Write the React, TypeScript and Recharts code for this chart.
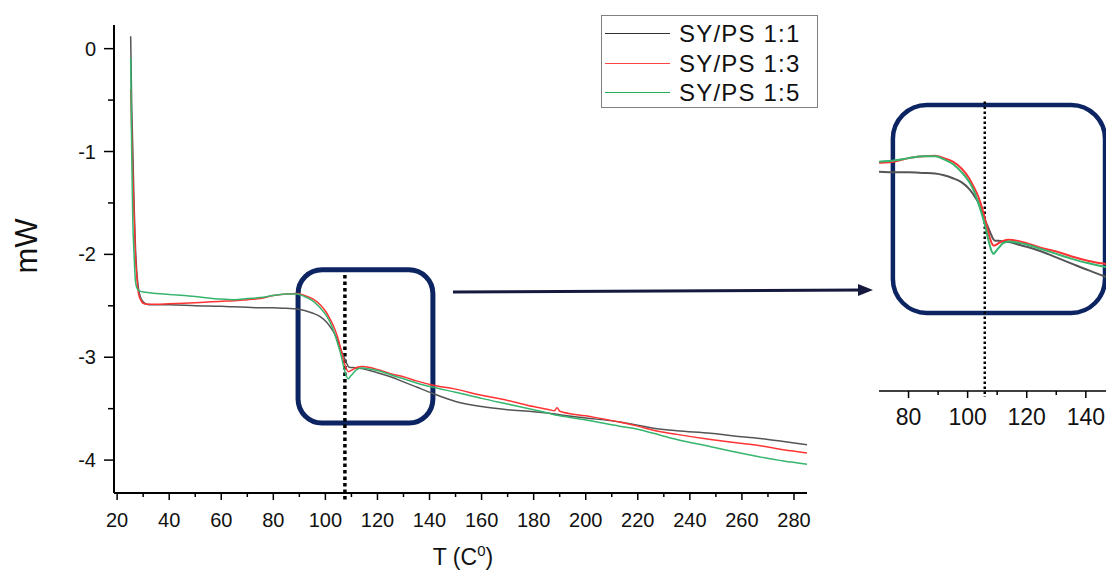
import {
  LineChart,
  Line,
  XAxis,
  YAxis,
  ReferenceArea,
  ReferenceLine,
} from "recharts";

// temperature grid (C) shared by the three DSC traces
const temps = [
  25.2, 25.6, 26, 26.5, 27, 27.5, 28.2, 29, 30, 31.5, 33, 40, 50, 60, 65, 70, 75, 80, 85, 89,
  92, 95, 98, 100.5, 102, 103.5, 105, 106, 107, 108, 108.8, 109.5, 110.5, 112, 114, 117, 120,
  125, 130, 135, 141, 150, 160, 170, 180, 186, 188, 189, 190, 200, 213, 220, 226, 235, 248, 257,
  267, 276, 285,
];

// heat flow (mW)
const mw11 = [
  0.12, -0.55, -0.95, -1.5, -1.9, -2.15, -2.33, -2.42, -2.46, -2.485, -2.49, -2.49, -2.5, -2.505,
  -2.51, -2.515, -2.52, -2.52, -2.525, -2.53, -2.545, -2.57, -2.605, -2.66, -2.71, -2.77, -2.86,
  -2.93, -2.99, -3.05, -3.09, -3.1, -3.1, -3.105, -3.11, -3.13, -3.15, -3.19, -3.24, -3.29, -3.35,
  -3.43, -3.48, -3.51, -3.53, -3.545, -3.55, -3.555, -3.56, -3.59, -3.63, -3.66, -3.69, -3.715,
  -3.74, -3.765, -3.79, -3.82, -3.85,
];
const mw13 = [
  -0.4, -0.8, -1.2, -1.6, -2.0, -2.2, -2.38, -2.44, -2.475, -2.485, -2.485, -2.48, -2.47, -2.455,
  -2.45, -2.44, -2.43, -2.4, -2.385, -2.38, -2.4, -2.43, -2.49, -2.57, -2.64, -2.72, -2.83, -2.93,
  -3.03, -3.11, -3.14, -3.135, -3.12, -3.1, -3.09, -3.1, -3.12, -3.16, -3.19, -3.23, -3.27, -3.31,
  -3.37, -3.42, -3.48, -3.51, -3.52, -3.49, -3.525, -3.57, -3.63, -3.67, -3.71, -3.75, -3.8, -3.83,
  -3.86, -3.9, -3.93,
];
const mw15 = [
  -0.09, -1.0, -1.65, -2.0, -2.25, -2.32, -2.35, -2.36, -2.365, -2.37, -2.375, -2.39, -2.41,
  -2.435, -2.44, -2.43, -2.42, -2.4, -2.385, -2.385, -2.41, -2.45, -2.52, -2.6, -2.67, -2.77,
  -2.89, -2.98, -3.09, -3.18, -3.21, -3.19, -3.16, -3.12, -3.105, -3.115, -3.13, -3.17, -3.21,
  -3.25, -3.29, -3.34, -3.4, -3.455, -3.51, -3.545, -3.56, -3.565, -3.57, -3.61, -3.67, -3.7,
  -3.74, -3.8, -3.87, -3.92, -3.97, -4.01, -4.04,
];

const seriesNames = ["SY/PS 1:1", "SY/PS 1:3", "SY/PS 1:5"];
const seriesKeys = ["s11", "s13", "s15"];
const seriesColors = ["#555555", "#ff3333", "#35b56e"];
const legendColors = ["#333333", "#ff4444", "#22aa55"];

const xTicks = [20, 30, 40, 50, 60, 70, 80, 90, 100, 110, 120, 130, 140, 150, 160, 170, 180, 190, 200, 210, 220, 230, 240, 250, 260, 270, 280];
const yTicks = [0, -0.5, -1, -1.5, -2, -2.5, -3, -3.5, -4];
const insetTicks = [80, 90, 100, 110, 120, 130, 140, 150];

const rows = temps.map((t, i) => ({ T: t, s11: mw11[i], s13: mw13[i], s15: mw15[i] }));

const FONT = "'Liberation Sans', Arial, sans-serif";
const NAVY = "#0c2461";

const YTick = ({ x, y, payload }: any) => {
  const major = Number.isInteger(payload.value);
  return (
    <g>
      <line x1={x} x2={x - (major ? 10 : 6)} y1={y} y2={y} stroke="#000" strokeWidth={1.5} />
      {major && (
        <text x={x - 18} y={y + 7} textAnchor="end" fontSize={20} fill="#111" fontFamily={FONT}>
          {payload.value}
        </text>
      )}
    </g>
  );
};

const makeXTick = (fontSize: number, dy: number) => ({ x, y, payload }: any) => {
  const major = payload.value % 20 === 0;
  return (
    <g>
      <line x1={x} x2={x} y1={y} y2={y + (major ? 7 : 4)} stroke="#000" strokeWidth={1.5} />
      {major && (
        <text x={x} y={y + dy} textAnchor="middle" fontSize={fontSize} fill="#111" fontFamily={FONT}>
          {payload.value}
        </text>
      )}
    </g>
  );
};

const roundBox = (r: number, w: number) => (p: any) => (
  <rect x={p.x} y={p.y} width={p.width} height={p.height} rx={r} ry={r} fill="none" stroke={NAVY} strokeWidth={w} />
);

export default function App() {
  return (
    <div
      style={{
        position: "absolute",
        left: 0,
        top: 0,
        width: 1106,
        height: 571,
        overflow: "hidden",
        background: "#fff",
        fontFamily: FONT,
      }}
    >
      <div style={{ position: "absolute", left: 0, top: 0 }}>
        <LineChart width={1106} height={571} data={rows} margin={{ top: 25, right: 299, left: 0, bottom: 0 }}>
          <XAxis
            dataKey="T"
            type="number"
            domain={[18.8, 285]}
            allowDataOverflow
            ticks={xTicks}
            interval={0}
            tickSize={0}
            tickMargin={0}
            tickLine={false}
            tick={makeXTick(20, 34)}
            axisLine={{ stroke: "#000", strokeWidth: 2 }}
            height={78}
            label={() => (
              <text x={463} y={565} textAnchor="middle" fontSize={23} fill="#111" fontFamily={FONT}>
                T (C<tspan dy={-9} fontSize={15}>0</tspan>
                <tspan dy={9}>)</tspan>
              </text>
            )}
          />
          <YAxis
            type="number"
            domain={[-4.32, 0.23]}
            allowDataOverflow
            ticks={yTicks}
            interval={0}
            tickSize={0}
            tickMargin={0}
            tickLine={false}
            tick={YTick}
            axisLine={{ stroke: "#000", strokeWidth: 2 }}
            width={114}
            label={() => (
              <text
                x={37}
                y={246}
                transform="rotate(-90 37 246)"
                textAnchor="middle"
                fontSize={31}
                fill="#111"
                fontFamily={FONT}
              >
                mW
              </text>
            )}
          />
          <ReferenceArea x1={89.5} x2={141.3} y1={-3.64} y2={-2.15} shape={roundBox(24, 5)} ifOverflow="visible" />
          <ReferenceLine
            segment={[
              { x: 107.5, y: -2.2 },
              { x: 107.5, y: -4.4 },
            ]}
            stroke="#000"
            strokeWidth={3.5}
            strokeDasharray="3.5 3"
            ifOverflow="visible"
          />
          {seriesKeys.map((k, i) => (
            <Line
              key={k}
              type="monotone"
              dataKey={k}
              name={seriesNames[i]}
              stroke={seriesColors[i]}
              strokeWidth={1.5}
              dot={false}
              isAnimationActive={false}
            />
          ))}
        </LineChart>
      </div>

      {/* zoomed inset */}
      <div style={{ position: "absolute", left: 879, top: 60 }}>
        <LineChart width={260} height={371} data={rows} margin={{ top: 0, right: 0, left: 0, bottom: 0 }}>
          <XAxis
            dataKey="T"
            type="number"
            domain={[70, 158]}
            allowDataOverflow
            ticks={insetTicks}
            interval={0}
            tickSize={0}
            tickMargin={0}
            tickLine={false}
            tick={makeXTick(23, 34)}
            axisLine={{ stroke: "#000", strokeWidth: 1.5 }}
            height={40}
          />
          <YAxis type="number" domain={[-4.37, -1.57]} allowDataOverflow hide />
          <ReferenceArea x1={74.7} x2={146.5} y1={-3.71} y2={-1.95} shape={roundBox(34, 4.5)} ifOverflow="visible" />
          <ReferenceLine
            segment={[
              { x: 105.8, y: -1.92 },
              { x: 105.8, y: -4.42 },
            ]}
            stroke="#000"
            strokeWidth={2.5}
            strokeDasharray="2.5 2.5"
            ifOverflow="visible"
          />
          {seriesKeys.map((k, i) => (
            <Line
              key={k}
              type="monotone"
              dataKey={k}
              stroke={seriesColors[i]}
              strokeWidth={2}
              dot={false}
              isAnimationActive={false}
            />
          ))}
        </LineChart>
      </div>

      {/* arrow from box to inset */}
      <svg width={1106} height={571} style={{ position: "absolute", left: 0, top: 0, pointerEvents: "none" }}>
        <line x1={453} y1={292} x2={862} y2={290} stroke="#15193d" strokeWidth={3} />
        <polygon points="858,284 873,290 858,296" fill="#15193d" />
      </svg>

      {/* legend */}
      <div
        style={{
          position: "absolute",
          left: 601,
          top: 15,
          width: 215,
          height: 91,
          border: "1.5px solid #808080",
          background: "#fff",
        }}
      >
        {seriesNames.map((n, i) => (
          <div
            key={n}
            style={{ position: "absolute", left: 0, top: 3 + i * 29.5, height: 29, display: "flex", alignItems: "center" }}
          >
            <div style={{ width: 65, height: 0, borderTop: `1.5px solid ${legendColors[i]}`, marginLeft: 3 }} />
            <span style={{ marginLeft: 9, fontSize: 24, letterSpacing: 1.2, color: "#111", lineHeight: "29px" }}>{n}</span>
          </div>
        ))}
      </div>
    </div>
  );
}
